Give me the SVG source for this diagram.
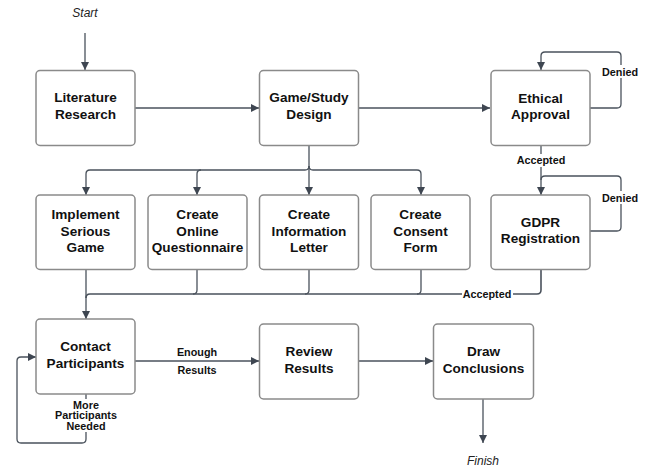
<svg xmlns="http://www.w3.org/2000/svg" width="645" height="468" viewBox="0 0 645 468">
<defs>
<style>
.box{fill:#fff;stroke:#8a8a8a;stroke-width:1.5}
.t{font-family:"Liberation Sans",Arial,sans-serif;font-weight:bold;font-size:13.6px;fill:#111;text-anchor:middle}
.lbl{font-family:"Liberation Sans",Arial,sans-serif;font-weight:bold;font-size:10.8px;fill:#111;text-anchor:middle}
.it{font-family:"Liberation Sans",Arial,sans-serif;font-style:italic;font-size:12px;fill:#222;text-anchor:middle}
.c{fill:none;stroke:#4a525c;stroke-width:1.3}
.bg{fill:#fff}
</style>
<marker id="ah" viewBox="0 0 10 10" refX="10" refY="5" markerWidth="8" markerHeight="8" markerUnits="userSpaceOnUse" orient="auto">
<path d="M0,0 L10,5 L0,10 Z" fill="#3e4651"/>
</marker>
</defs>
<rect width="645" height="468" fill="#fff"/>

<g id="connectors">
<path class="c" d="M85,33 V70" marker-end="url(#ah)"/>
<path class="c" d="M135,108 H259" marker-end="url(#ah)"/>
<path class="c" d="M358,108 H490" marker-end="url(#ah)"/>
<path class="c" d="M590,108 H617 q4,0 4,-4 V56 q0,-4 -4,-4 H545 q-4,0 -4,4 V70" marker-end="url(#ah)"/>
<path class="c" d="M541,145 V195" marker-end="url(#ah)"/>
<path class="c" d="M590,231 H617 q4,0 4,-4 V180 q0,-4 -4,-4 H545 q-4,0 -4,4"/>
<path class="c" d="M309,145 V195" marker-end="url(#ah)"/>
<path class="c" d="M309,166 q0,4 -4,4 H90 q-4,0 -4,4 V195" marker-end="url(#ah)"/>
<path class="c" d="M201,170 q-4,0 -4,4 V195" marker-end="url(#ah)"/>
<path class="c" d="M309,166 q0,4 4,4 H417 q4,0 4,4 V195" marker-end="url(#ah)"/>
<path class="c" d="M86,269 V319" marker-end="url(#ah)"/>
<path class="c" d="M541,269 V290 q0,4 -4,4 H90 q-4,0 -4,4" style="stroke-width:1.6"/>
<path class="c" d="M197,269 V290 q0,4 -4,4"/>
<path class="c" d="M309,269 V290 q0,4 -4,4"/>
<path class="c" d="M421,269 V290 q0,4 -4,4"/>
<path class="c" d="M135,361 H259" marker-end="url(#ah)"/>
<path class="c" d="M358,361 H433" marker-end="url(#ah)"/>
<path class="c" d="M483,399 V443" marker-end="url(#ah)"/>
<path class="c" d="M86,394 V439 q0,4 -4,4 H21 q-4,0 -4,-4 V361 q0,-4 4,-4 H36" marker-end="url(#ah)"/>

<rect class="bg" x="600" y="65" width="40" height="13"/>
<text class="lbl" x="620" y="75.5">Denied</text>
<rect class="bg" x="600" y="191" width="40" height="13"/>
<text class="lbl" x="620" y="201.5">Denied</text>
<rect class="bg" x="515" y="154" width="52" height="13"/>
<text class="lbl" x="541" y="164">Accepted</text>
<rect class="bg" x="462" y="288" width="51" height="12"/>
<text class="lbl" x="487" y="297.5">Accepted</text>
<text class="lbl" x="197" y="355.5">Enough</text>
<text class="lbl" x="197" y="373.5">Results</text>
<rect class="bg" x="54" y="399" width="64" height="33"/>
<text class="lbl" x="86" y="408.5">More</text>
<text class="lbl" x="86" y="419">Participants</text>
<text class="lbl" x="86" y="429.5">Needed</text>
<text class="it" x="85" y="17">Start</text>
<text class="it" x="483" y="465">Finish</text>
</g>

<g id="lit"><rect class="box" x="36" y="70.5" width="99" height="75" rx="4"/><text class="t" x="85.5" y="102">Literature</text><text class="t" x="85.5" y="119">Research</text></g>
<g id="game"><rect class="box" x="259.5" y="70.5" width="99" height="75" rx="4"/><text class="t" x="309" y="102">Game/Study</text><text class="t" x="309" y="119">Design</text></g>
<g id="ethical"><rect class="box" x="491" y="70.5" width="99" height="75" rx="4"/><text class="t" x="540.5" y="102.5">Ethical</text><text class="t" x="540.5" y="119">Approval</text></g>

<g id="implement"><rect class="box" x="36" y="195" width="99" height="74.5" rx="4"/><text class="t" x="85.5" y="219">Implement</text><text class="t" x="85.5" y="235.5">Serious</text><text class="t" x="85.5" y="252">Game</text></g>
<g id="questionnaire"><rect class="box" x="148" y="195" width="99" height="74.5" rx="4"/><text class="t" x="197.5" y="219">Create</text><text class="t" x="197.5" y="235.5">Online</text><text class="t" x="197.5" y="252">Questionnaire</text></g>
<g id="letter"><rect class="box" x="259.5" y="195" width="99" height="74.5" rx="4"/><text class="t" x="309" y="219">Create</text><text class="t" x="309" y="235.5">Information</text><text class="t" x="309" y="252">Letter</text></g>
<g id="consent"><rect class="box" x="371" y="195" width="99" height="74.5" rx="4"/><text class="t" x="420.5" y="219">Create</text><text class="t" x="420.5" y="235.5">Consent</text><text class="t" x="420.5" y="252">Form</text></g>
<g id="gdpr"><rect class="box" x="491" y="195" width="99" height="74.5" rx="4"/><text class="t" x="540.5" y="226.5">GDPR</text><text class="t" x="540.5" y="243">Registration</text></g>

<g id="contact"><rect class="box" x="36" y="319" width="99" height="75" rx="4"/><text class="t" x="85.5" y="351">Contact</text><text class="t" x="85.5" y="367.5">Participants</text></g>
<g id="review"><rect class="box" x="259.5" y="324" width="99" height="75" rx="4"/><text class="t" x="309" y="356">Review</text><text class="t" x="309" y="372.5">Results</text></g>
<g id="draw"><rect class="box" x="433.5" y="324" width="100" height="75" rx="4"/><text class="t" x="483.5" y="356">Draw</text><text class="t" x="483.5" y="372.5">Conclusions</text></g>
</svg>
